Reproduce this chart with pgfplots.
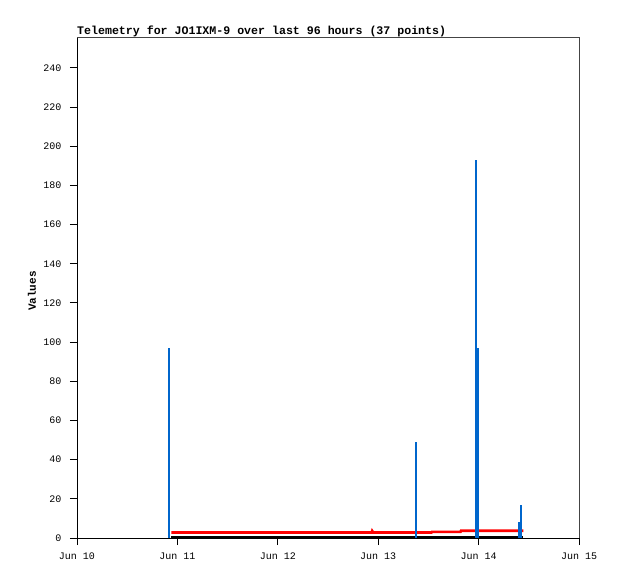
\documentclass[border=0pt]{standalone}
\usepackage{fontspec}
\setmainfont{Liberation Mono}
\usepackage{pgfplots}
\pgfplotsset{compat=1.18}
\definecolor{spikeblue}{HTML}{0066CC}
\definecolor{framegray}{HTML}{444444}
\begin{document}
\begin{tikzpicture}[x=1pt,y=1pt]
\path (0,0) rectangle (618,579);
\begin{axis}[
  at={(77pt,41pt)}, anchor=south west,
  scale only axis, width=502pt, height=500pt,
  xmin=0, xmax=5, ymin=0, ymax=255.3,
  xtick={0,1,2,3,4,5},
  xticklabels={Jun 10,Jun 11,Jun 12,Jun 13,Jun 14,Jun 15},
  ytick={0,20,...,240},
  tick align=outside, tick pos=left,
  major tick length=7pt,
  tick style={black, line width=1pt},
  axis line style={framegray, line width=1pt},
  separate axis lines,
  x axis line style={black},
  y axis line style={black},
  axis x line*=bottom, axis y line*=left,
  ticklabel style={font=\fontsize{10}{12}\selectfont},
  xticklabel style={yshift=-4pt},
  yticklabel style={xshift=-5pt},
  /pgf/number format/assume math mode=true,
  clip=false,
]
% black series at zero
\addplot[black, line width=2.2pt, mark=none] coordinates {
(0.94,0.3) (1.05,0.3) (1.30,0.3) (1.60,0.3) (1.90,0.3) (2.20,0.3) (2.50,0.3) (2.80,0.3) (2.94,0.3) (3.10,0.3) (3.38,0.3) (3.53,0.3) (3.70,0.3) (3.82,0.3) (3.98,0.3) (4.20,0.3) (4.42,0.3) (4.445,0.3)
};
% red series
\addplot[red, line width=2.6pt, mark=none] coordinates {
(0.94,2.8) (1.20,2.8) (1.60,2.8) (2.00,2.8) (2.40,2.8) (2.80,2.8) (2.935,2.8) (2.94,3.6) (2.95,2.8) (3.10,2.8) (3.38,2.8) (3.53,2.8) (3.535,3.1) (3.70,3.1) (3.82,3.1) (3.825,3.7) (3.98,3.7) (4.20,3.7) (4.42,3.7) (4.445,3.7)
};
% blue impulses
\addplot[spikeblue, line width=2.2pt, ycomb, mark=none] coordinates {
(0.919,97) (3.38,49) (3.975,193) (3.988,97) (4.405,8) (4.42,17)
};
\end{axis}
% frame top and right
\draw[framegray, line width=1pt] (77,541) -- (579,541) -- (579,41);
\node[anchor=base west, inner sep=0pt, font=\bfseries\fontsize{11.6}{12}\selectfont] at (77,544) {Telemetry for JO1IXM-9 over last 96 hours (37 points)};
\node[rotate=90, inner sep=0pt, font=\bfseries\fontsize{11}{12}\selectfont] at (32,288) {Values};
\end{tikzpicture}
\end{document}
